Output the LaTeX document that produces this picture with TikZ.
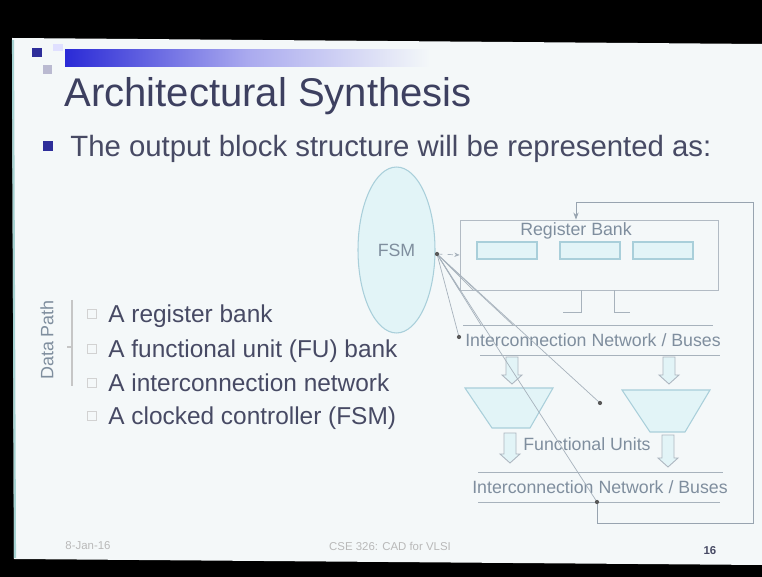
\documentclass[tikz,border=0pt]{standalone}
\usepackage{fontspec}
\setmainfont{Liberation Sans}
\usepackage{xcolor}
\usetikzlibrary{shapes.geometric, arrows.meta, positioning, calc}
\definecolor{slideBg}{HTML}{F4F8F9}
\definecolor{titleInk}{HTML}{3D4060}
\definecolor{bodyInk}{HTML}{474A64}
\definecolor{diagInk}{HTML}{7F8E9E}
\definecolor{unitFill}{HTML}{E2F4F7}
\definecolor{unitEdge}{HTML}{A9CFDA}
\definecolor{wireInk}{HTML}{98A4B0}
\definecolor{navyMark}{HTML}{2E2E9A}
\definecolor{barBlue}{HTML}{2A2AD6}
\tikzset{
  unitbox/.style={draw=unitEdge, fill=unitFill, line width=0.6pt},
  busline/.style={draw=wireInk!85, line width=0.5pt},
  ctlwire/.style={draw=wireInk!85, line width=0.4pt},
  diagtext/.style={text=diagInk, font=\fontsize{10.1}{12}\selectfont, inner sep=0pt},
  listitem/.style={anchor=base west, inner sep=0pt, text=bodyInk,
    font=\fontsize{13.9}{16}\selectfont},
  tickbox/.style={draw=gray!35, line width=0.5pt},
  foottext/.style={text=gray!55, font=\fontsize{6.5}{7}\selectfont, inner sep=0pt}
}
% hollow block arrow pointing down: x, top y, tip y
\newcommand{\hollowdown}[3]{%
  \draw[draw=wireInk!80, fill=unitFill, line width=0.5pt]
    (#1-6,#2) -- (#1+6,#2) -- (#1+6,#3-9) -- (#1+10,#3-9) -- (#1,#3)
    -- (#1-10,#3-9) -- (#1-6,#3-9) -- cycle;}

\begin{document}
\begin{tikzpicture}[x=0.02cm, y=-0.02cm]
  % screen and slide
  \fill[black] (0,0) rectangle (762,577);
  \fill[slideBg] (12,38) -- (762,44) -- (762,565) -- (14,559) -- cycle;
  \draw[teal!35, line width=1.2pt] (13,40) -- (15,558);

  % header decoration
  \shade[left color=barBlue, right color=slideBg, middle color=barBlue!40!white]
    (65,50) rectangle (430,67);
  \fill[navyMark] (32,48) rectangle (42,57);
  \fill[blue!20!gray!45] (43,65) rectangle (52,74);
  \fill[blue!12] (53,44) rectangle (63,51);

  \node[anchor=base west, inner sep=0pt, text=titleInk,
    font=\fontsize{22.8}{26}\selectfont] (title) at (64,107) {Architectural Synthesis};
  \fill[navyMark] (43,141) rectangle (53,151);
  \node[anchor=base west, inner sep=0pt, text=bodyInk,
    font=\fontsize{16.7}{20}\selectfont] (lead) at (70,157)
    {The output block structure will be represented as:};

  % list on the left
  \foreach \i/\yb/\txt in {1/323/A register bank, 2/358/A functional unit (FU) bank,
      3/392/A interconnection network, 4/425/A clocked controller (FSM)} {
    \draw[tickbox] (87,\yb-14) rectangle (96,\yb-5);
    \node[listitem] (item\i) at (108,\yb) {\txt};
  }
  \draw[gray!45, line width=0.6pt] (72,300) -- (72,386) (72,347) -- (67,347);
  \node[rotate=90, text=diagInk, font=\fontsize{10.2}{12}\selectfont, inner sep=0pt]
    (dpath) at (47,340) {Data Path};

  % controller
  \node[ellipse, unitbox, minimum width=1.54cm, minimum height=3.32cm, inner sep=0pt,
    text=diagInk, font=\fontsize{10.1}{12}\selectfont] (fsm) at (396.5,250) {FSM};

  % register bank
  \node[draw=wireInk!75, line width=0.5pt, minimum width=5.16cm, minimum height=1.4cm,
    inner sep=0pt] (regbank) at (589,255) {};
  \node[diagtext] (regtitle) at (576,231) {Register Bank};
  \node[unitbox, minimum width=1.2cm, minimum height=0.34cm, inner sep=0pt] (reg1) at (507,250.5) {};
  \node[unitbox, minimum width=1.2cm, minimum height=0.34cm, inner sep=0pt] (reg2) at (590,250.5) {};
  \node[unitbox, minimum width=1.2cm, minimum height=0.34cm, inner sep=0pt] (reg3) at (663,250.5) {};
  \draw[busline] (563,312) -- (581,312) -- (581,290.5) (614,290.5) -- (614,312) -- (630,312);

  % buses and functional units
  \draw[busline] (463,325) -- (713,325);
  \node[diagtext] (bustop) at (593,340) {Interconnection Network / Buses};
  \draw[busline] (480,355) -- (720,355);
  \hollowdown{512}{357}{384}
  \hollowdown{669}{357}{384}
  \draw[unitbox] (465,388) -- (553,388) -- (530,428) -- (492,428) -- cycle;
  \draw[unitbox] (622,390) -- (710,390) -- (685,432) -- (650,432) -- cycle;
  \node[diagtext] (fulabel) at (587,444) {Functional Units};
  \hollowdown{510}{433}{463}
  \hollowdown{668}{435}{467}
  \draw[busline] (478,472) -- (723,472);
  \node[diagtext] (busbot) at (600,487) {Interconnection Network / Buses};
  \draw[busline] (478,502) -- (720,502);

  % control wires from the FSM
  \coordinate (fsmout) at (437,254);
  \coordinate (busA) at (481,325);
  \coordinate (busB) at (513,325);
  \coordinate (dotC) at (459,337);
  \coordinate (dotA) at (600,403);
  \coordinate (dotB) at (597,502);
  \draw[ctlwire, dashed, -{Stealth[length=3pt, width=2.5pt]}] (fsmout) -- (regbank.west);
  \draw[ctlwire] (fsmout) -- (regbank.south west);
  \draw[ctlwire] (fsmout) -- ($(regbank.south west)+(14,0)$);
  \draw[ctlwire] (fsmout) -- (busA);
  \draw[ctlwire] (fsmout) -- (busB);
  \draw[ctlwire] (fsmout) -- (dotC);
  \draw[ctlwire] (fsmout) -- (dotA);
  \draw[ctlwire] (fsmout) -- (dotB);
  % feedback to the register bank
  \draw[ctlwire, draw=wireInk, -{Stealth[length=4pt, width=3pt]}]
    (dotB) -- (597,523) -- (753,523) -- (753,202) -- (576,202) -- (regbank.north -| regtitle);
  \foreach \d in {fsmout, dotA, dotB, dotC}
    \fill[gray!70!black] (\d) circle (1.2pt);

  % footer
  \node[foottext] (fdate) at (88,546) {8-Jan-16};
  \node[foottext] (fcourse) at (390,546) {CSE 326: CAD for VLSI};
  \node[foottext, text=bodyInk, font=\fontsize{6.5}{7}\selectfont\bfseries] (fpage) at (710,551) {16};
\end{tikzpicture}
\end{document}
